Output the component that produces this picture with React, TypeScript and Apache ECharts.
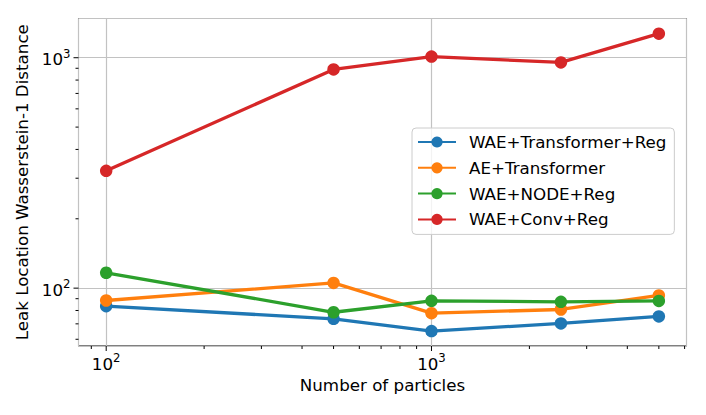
import React, { useEffect, useRef } from "react";
import * as echarts from "echarts";

const particles = [100, 500, 1000, 2500, 5000];
const seriesNames = ["WAE+Transformer+Reg", "AE+Transformer", "WAE+NODE+Reg", "WAE+Conv+Reg"];
const waeTransformerReg = [83.5, 73.6, 65.1, 70.3, 75.4];
const aeTransformer = [88.4, 105.4, 77.9, 80.8, 93];
const waeNodeReg = [116.6, 78.6, 88.1, 87.2, 88];
const waeConvReg = [323, 890, 1012, 954, 1272];
const colors = ["#1f77b4", "#ff7f0e", "#2ca02c", "#d62728"];

const xRange = [82.2, 6081];
const yRange = [56.1, 1480];
const xMajorTicks = [100, 1000];
const xMinorTicks = [90, 200, 300, 400, 500, 600, 700, 800, 900, 2000, 3000, 4000, 5000, 6000];
const yMajorTicks = [100, 1000];
const yMinorTicks = [60, 70, 80, 90, 200, 300, 400, 500, 600, 700, 800, 900];

const FONT = "DejaVu Sans";
const FS = 16.7;

function isPow10(v: number) {
  const l = Math.log10(v);
  return Math.abs(l - Math.round(l)) < 1e-6;
}

function powLabel(v: number) {
  if (!isPow10(v)) return "";
  return `{b|10}{s|${Math.round(Math.log10(v))}}`;
}

const labelRich = {
  b: { fontFamily: FONT, fontSize: FS, color: "#000", lineHeight: 20, verticalAlign: "bottom" },
  s: { fontFamily: FONT, fontSize: 11.7, color: "#000", lineHeight: 20, verticalAlign: "top" },
};

function tickSeries(axis: "x" | "y", values: number[], len: number) {
  return {
    type: "custom",
    silent: true,
    clip: false,
    z: 5,
    data: values.map((v) => (axis === "x" ? [v, 100] : [1000, v])),
    renderItem: (params: any, api: any) => {
      const cs = params.coordSys;
      const p = api.coord([api.value(0), api.value(1)]);
      if (axis === "x") {
        const x = p[0];
        const y0 = cs.y + cs.height;
        return {
          type: "line",
          shape: { x1: x, y1: y0, x2: x, y2: y0 + len },
          style: { stroke: "#000", lineWidth: 1 },
        };
      }
      const y = p[1];
      const x0 = cs.x;
      return {
        type: "line",
        shape: { x1: x0 - len, y1: y, x2: x0, y2: y },
        style: { stroke: "#000", lineWidth: 1 },
      };
    },
  };
}

export default function App() {
  const ref = useRef<HTMLDivElement>(null);
  useEffect(() => {
    if (!ref.current) return;
    const chart = echarts.init(ref.current, undefined, { renderer: "svg" });
    const values = [waeTransformerReg, aeTransformer, waeNodeReg, waeConvReg];
    const lineSeries = values.map((vals, i) => ({
      name: seriesNames[i],
      type: "line",
      data: particles.map((x, j) => [x, vals[j]]),
      symbol: "circle",
      symbolSize: 12.5,
      color: colors[i],
      lineStyle: { width: 3.3, color: colors[i] },
      itemStyle: { color: colors[i] },
      z: 10 + i,
    }));
    chart.setOption({
      animation: false,
      backgroundColor: "#fff",
      textStyle: { fontFamily: FONT },
      grid: {
        left: 78.5,
        top: 18.5,
        right: 706 - 686.5,
        bottom: 415 - 346,
        show: true,
        borderColor: "#000",
        borderWidth: 1,
        backgroundColor: "transparent",
        containLabel: false,
      },
      legend: {
        data: seriesNames,
        left: 412,
        top: 128,
        orient: "vertical",
        itemWidth: 38,
        itemHeight: 14,
        itemGap: 7.8,
        padding: [5, 8, 6, 5],
        backgroundColor: "rgba(255,255,255,0.8)",
        borderColor: "#cccccc",
        borderWidth: 1,
        borderRadius: 4,
        selectedMode: false,
        textStyle: { fontFamily: FONT, fontSize: FS, color: "#000", lineHeight: 18, padding: [0, 0, 0, 8] },
      },
      xAxis: {
        type: "log",
        logBase: 10,
        min: xRange[0],
        max: xRange[1],
        name: "Number of particles",
        nameLocation: "middle",
        nameGap: 27,
        nameTextStyle: { fontFamily: FONT, fontSize: FS, color: "#000" },
        axisLine: { show: false },
        axisTick: { show: false },
        minorTick: { show: false },
        splitLine: { show: true, lineStyle: { color: "#c2c2c2", width: 1.2 } },
        axisLabel: { formatter: powLabel, rich: labelRich, margin: 6, showMinLabel: false, showMaxLabel: false },
      },
      yAxis: {
        type: "log",
        logBase: 10,
        min: yRange[0],
        max: yRange[1],
        name: "Leak Location Wasserstein-1 Distance",
        nameLocation: "middle",
        nameGap: 40,
        nameTextStyle: { fontFamily: FONT, fontSize: FS, color: "#000" },
        axisLine: { show: false },
        axisTick: { show: false },
        minorTick: { show: false },
        splitLine: { show: true, lineStyle: { color: "#c2c2c2", width: 1.2 } },
        axisLabel: { formatter: powLabel, rich: labelRich, margin: 8, showMinLabel: false, showMaxLabel: false },
      },
      series: [
        ...lineSeries,
        tickSeries("x", xMajorTicks, 5),
        tickSeries("x", xMinorTicks, 3),
        tickSeries("y", yMajorTicks, 5),
        tickSeries("y", yMinorTicks, 3),
      ],
    });
    return () => chart.dispose();
  }, []);
  return <div ref={ref} style={{ position: "fixed", left: 0, top: 0, width: 706, height: 415 }} />;
}
